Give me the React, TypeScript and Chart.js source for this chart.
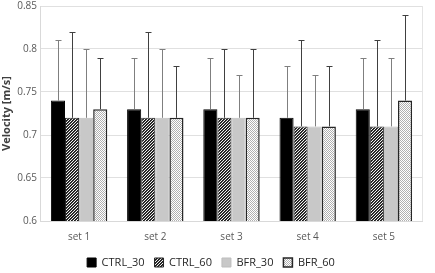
import React, { useEffect, useRef } from "react";
import { Chart, registerables } from "chart.js";

Chart.register(...registerables);

const categories = ["set 1", "set 2", "set 3", "set 4", "set 5"];
const seriesNames = ["CTRL_30", "CTRL_60", "BFR_30", "BFR_60"];
const ctrl30 = [0.74, 0.73, 0.73, 0.72, 0.73];
const ctrl60 = [0.72, 0.72, 0.72, 0.71, 0.71];
const bfr30 = [0.72, 0.72, 0.72, 0.71, 0.71];
const bfr60 = [0.73, 0.72, 0.72, 0.71, 0.74];
const ctrl30Upper = [0.81, 0.79, 0.79, 0.78, 0.79];
const ctrl60Upper = [0.82, 0.82, 0.80, 0.81, 0.81];
const bfr30Upper = [0.80, 0.80, 0.77, 0.77, 0.79];
const bfr60Upper = [0.79, 0.78, 0.80, 0.78, 0.84];
const yTicks = [0.6, 0.65, 0.7, 0.75, 0.8, 0.85];

function hatchPattern(): CanvasPattern | string {
  const c = document.createElement("canvas");
  c.width = 3;
  c.height = 3;
  const g = c.getContext("2d");
  if (!g) return "#555";
  for (let x = 0; x < 3; x++) {
    for (let y = 0; y < 3; y++) {
      const k = (x + y) % 3;
      g.fillStyle = k === 0 ? "#f2f2f2" : k === 1 ? "#1a1a1a" : "#3a3a3a";
      g.fillRect(x, y, 1, 1);
    }
  }
  return g.createPattern(c, "repeat") || "#555";
}

function dotPattern(): CanvasPattern | string {
  const c = document.createElement("canvas");
  c.width = 2;
  c.height = 2;
  const g = c.getContext("2d");
  if (!g) return "#ddd";
  g.fillStyle = "#ffffff";
  g.fillRect(0, 0, 2, 2);
  g.fillStyle = "#b0b0b0";
  g.fillRect(0, 0, 1, 1);
  g.fillRect(1, 1, 1, 1);
  return g.createPattern(c, "repeat") || "#ddd";
}

const errorBarPlugin = {
  id: "errorBars",
  afterDatasetsDraw(chart: any) {
    const ctx = chart.ctx;
    const yScale = chart.scales.y;
    chart.data.datasets.forEach((ds: any, i: number) => {
      const meta = chart.getDatasetMeta(i);
      if (meta.hidden) return;
      meta.data.forEach((el: any, j: number) => {
        const up = ds.upper[j];
        const yTop = Math.round(yScale.getPixelForValue(up)) + 0.5;
        ctx.save();
        ctx.strokeStyle = ds.errorColor;
        ctx.lineWidth = 1;
        ctx.beginPath();
        const x = Math.round(el.x) + 0.5;
        ctx.moveTo(x, el.y);
        ctx.lineTo(x, yTop);
        ctx.moveTo(x - 3, yTop);
        ctx.lineTo(x + 3, yTop);
        ctx.stroke();
        ctx.restore();
      });
    });
  },
};

const framePlugin = {
  id: "frame",
  afterDraw(chart: any) {
    const { right, top, bottom } = chart.chartArea;
    const ctx = chart.ctx;
    ctx.save();
    ctx.strokeStyle = "#e4e4e4";
    ctx.lineWidth = 1;
    ctx.beginPath();
    ctx.moveTo(Math.round(right) + 0.5, top);
    ctx.lineTo(Math.round(right) + 0.5, bottom);
    ctx.stroke();
    ctx.restore();
  },
};

// pulls the legend row a little closer to the category labels
const legendShiftPlugin = {
  id: "legendShift",
  afterLayout(chart: any) {
    const lg = chart.legend;
    if (lg) {
      lg.top -= 6;
      lg.bottom -= 6;
    }
  },
};

const CANVAS_W = 435;
const CANVAS_H = 288;
const CANVAS_TOP = -4;

export default function App() {
  const ref = useRef<HTMLCanvasElement>(null);
  useEffect(() => {
    if (!ref.current) return;
    const font = "'Open Sans', sans-serif";
    const chart = new Chart(ref.current, {
      type: "bar",
      data: {
        labels: categories,
        datasets: [
          {
            label: seriesNames[0],
            data: ctrl30,
            upper: ctrl30Upper,
            errorColor: "#7f7f7f",
            backgroundColor: "#000000",
            borderColor: "#000000",
            borderWidth: 1,
          } as any,
          {
            label: seriesNames[1],
            data: ctrl60,
            upper: ctrl60Upper,
            errorColor: "#404040",
            backgroundColor: hatchPattern(),
            borderColor: "#262626",
            borderWidth: 1,
          } as any,
          {
            label: seriesNames[2],
            data: bfr30,
            upper: bfr30Upper,
            errorColor: "#7f7f7f",
            backgroundColor: "#c8c8c8",
            borderColor: "#bdbdbd",
            borderWidth: 1,
          } as any,
          {
            label: seriesNames[3],
            data: bfr60,
            upper: bfr60Upper,
            errorColor: "#404040",
            backgroundColor: dotPattern(),
            borderColor: "#262626",
            borderWidth: 1.5,
          } as any,
        ],
      },
      options: {
        animation: false,
        responsive: false,
        maintainAspectRatio: false,
        layout: { padding: { top: 0, right: 13, left: 0, bottom: 0 } },
        datasets: {
          bar: { categoryPercentage: 0.74, barPercentage: 1.0 },
        },
        scales: {
          x: {
            grid: { display: false, drawTicks: false },
            border: { display: true, color: "#d9d9d9" },
            ticks: { color: "#595959", font: { family: font, size: 10 }, padding: 10 },
          },
          y: {
            min: 0.6,
            max: 0.85,
            afterBuildTicks: (axis: any) => {
              axis.ticks = yTicks.map((v) => ({ value: v }));
            },
            grid: { color: "#e0e0e0", drawTicks: false },
            border: { display: true, color: "#d9d9d9" },
            ticks: {
              color: "#595959",
              font: { family: font, size: 10 },
              padding: 4,
              callback: (v: any) => String(Number(v)),
            },
            title: {
              display: true,
              text: "Velocity [m/s]",
              color: "#404040",
              font: { family: font, size: 11, weight: "bold" },
              padding: { top: 0, bottom: 0 },
            },
          },
        },
        plugins: {
          legend: {
            position: "bottom",
            labels: {
              color: "#262626",
              font: { family: font, size: 11 },
              boxWidth: 9,
              boxHeight: 9,
              padding: 10,
            },
          },
          tooltip: { enabled: false },
        },
      } as any,
      plugins: [errorBarPlugin, framePlugin, legendShiftPlugin],
    });
    return () => chart.destroy();
  }, []);
  return (
    <div style={{ position: "absolute", left: 0, top: 0, width: 435, height: 273, overflow: "hidden", background: "#fff" }}>
      <canvas
        ref={ref}
        width={CANVAS_W}
        height={CANVAS_H}
        style={{ position: "absolute", left: 0, top: CANVAS_TOP, width: CANVAS_W, height: CANVAS_H }}
      />
    </div>
  );
}
